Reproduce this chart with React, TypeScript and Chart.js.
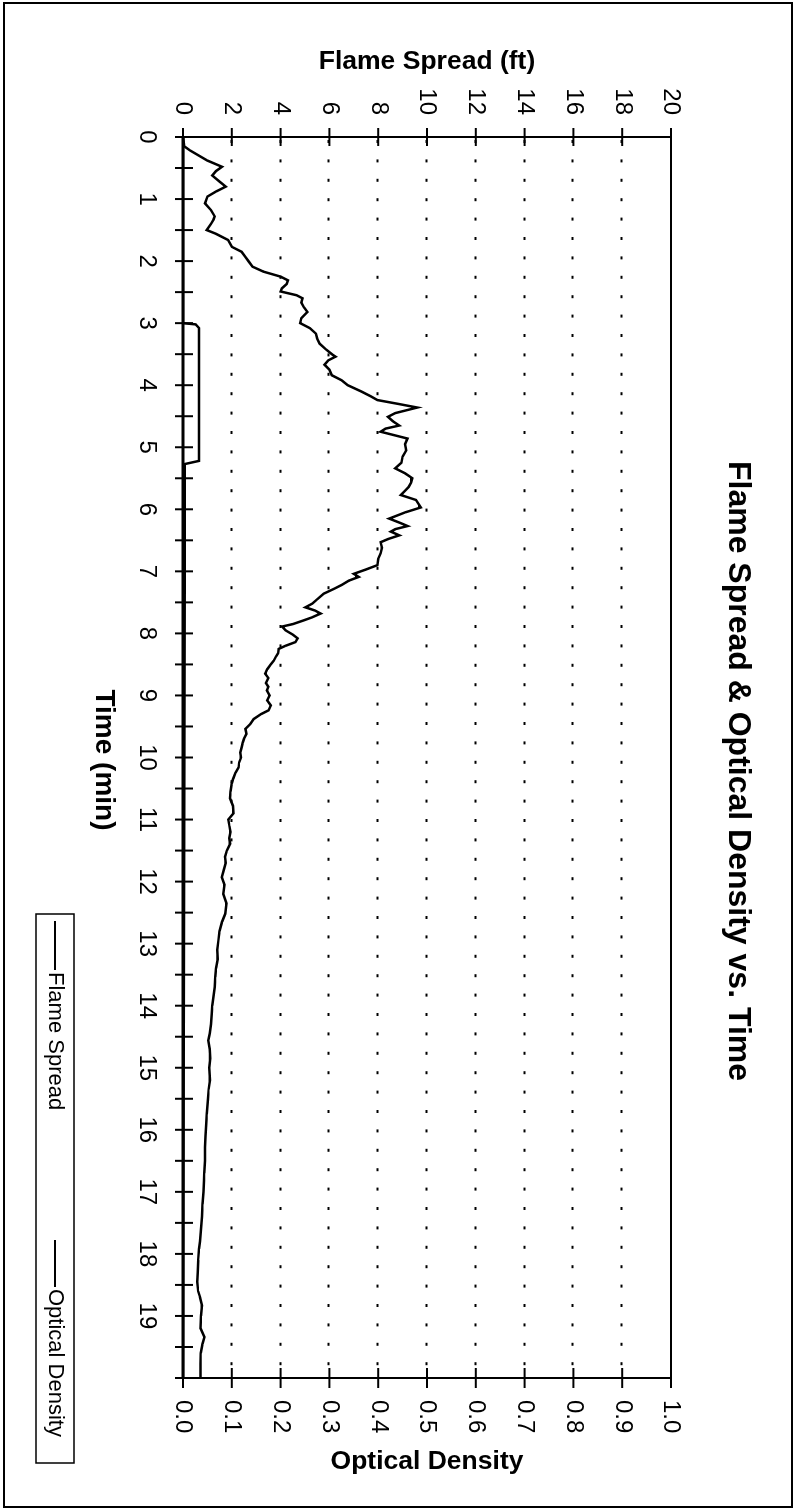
import React, { useEffect, useRef } from "react";
import { Chart, registerables } from "chart.js";

Chart.register(...registerables);

// Flame spread record (time in minutes, spread in feet)
const timeMin = [
  0, 0.15, 0.22, 0.3, 0.38, 0.48, 0.55, 0.62, 0.72, 0.8, 0.88, 0.96, 1.07, 1.18, 1.28, 1.33, 1.4, 1.5,
  1.56, 1.66, 1.77, 1.85, 1.93, 2.01, 2.09, 2.17, 2.25, 2.31, 2.37, 2.44, 2.49, 2.55, 2.6, 2.67, 2.74,
  2.82, 2.92, 3.0, 3.08, 3.17, 3.25, 3.33, 3.42, 3.5, 3.54, 3.6, 3.67, 3.75, 3.84, 3.92, 4.0, 4.1, 4.18,
  4.24, 4.3, 4.36, 4.45, 4.51, 4.58, 4.65, 4.7, 4.75, 4.86, 4.95, 5.05, 5.15, 5.25, 5.34, 5.42, 5.5, 5.57,
  5.64, 5.7, 5.77, 5.85, 5.97, 6.05, 6.15, 6.22, 6.27, 6.32, 6.36, 6.42, 6.48, 6.53, 6.62, 6.71, 6.8, 6.9,
  6.97, 7.04, 7.09, 7.15, 7.22, 7.28, 7.36, 7.45, 7.52, 7.58, 7.63, 7.68, 7.74, 7.79, 7.85, 7.89, 7.95,
  8.02, 8.08, 8.14, 8.2, 8.25, 8.32, 8.38, 8.44, 8.5, 8.58, 8.65, 8.72, 8.8, 8.86, 8.92, 9.0, 9.08, 9.16,
  9.24, 9.3, 9.38, 9.46, 9.54, 9.62, 9.7, 9.76, 9.83, 9.92, 10.0, 10.08, 10.16, 10.25, 10.35, 10.42, 10.55,
  10.66, 10.78, 10.9, 11.0, 11.1, 11.2, 11.3, 11.39, 11.5, 11.6, 11.7, 11.8, 11.93, 12.05, 12.2, 12.35,
  12.52, 12.65, 12.8, 12.95, 13.1, 13.25, 13.4, 13.54, 13.7, 13.85, 14.0, 14.13, 14.3, 14.45, 14.56, 14.7,
  14.85, 15.0, 15.2, 15.35, 15.5, 15.75, 15.9, 16.1, 16.28, 16.5, 16.7, 16.82, 17.0, 17.2, 17.4, 17.6,
  17.8, 17.92, 18.1, 18.3, 18.45, 18.6, 18.7, 18.83, 19.0, 19.2, 19.34, 19.45, 19.6, 19.77, 20.0,
];
const flameSpreadFt = [
  0, 0.05, 0.3, 0.65, 1.0, 1.6, 1.35, 1.2, 1.5, 1.75, 1.35, 1.0, 0.9, 1.15, 1.3, 1.25, 1.15, 0.97,
  1.35, 1.85, 2.0, 2.4, 2.55, 2.7, 2.85, 3.3, 4.0, 4.3, 4.25, 4.05, 4.0, 4.65, 4.9, 4.85, 4.95,
  5.1, 4.85, 4.8, 5.2, 5.45, 5.5, 5.6, 5.85, 6.1, 6.25, 5.95, 5.8, 6.0, 6.1, 6.5, 6.75, 7.3, 7.7,
  7.97, 8.8, 9.6, 8.7, 8.4, 8.6, 8.86, 8.3, 8.1, 9.2, 9.1, 9.15, 9.0, 8.95, 8.7, 9.1, 9.4, 9.35,
  9.25, 9.1, 8.93, 9.55, 9.75, 9.1, 8.45, 8.9, 9.2, 8.7, 8.52, 8.86, 8.4, 8.1, 8.15, 8.1, 8.0, 7.97,
  7.5, 7.0, 7.2, 6.8, 6.5, 6.2, 5.77, 5.5, 5.3, 5.02, 5.4, 5.64, 5.3, 4.95, 4.5, 4.06, 4.2,
  4.5, 4.7, 4.61, 4.2, 3.92, 3.9, 3.8, 3.72, 3.6, 3.45, 3.37, 3.5, 3.4, 3.5, 3.44, 3.55, 3.45, 3.6,
  3.51, 3.2, 2.9, 2.76, 2.56, 2.6, 2.5, 2.45, 2.41, 2.35, 2.38, 2.3, 2.28, 2.15, 2.05, 2.0, 1.95,
  1.93, 2.05, 2.07, 1.86, 1.9, 1.95, 1.9, 1.93, 1.8, 1.72, 1.75, 1.68, 1.59, 1.7, 1.65, 1.78,
  1.73, 1.6, 1.5, 1.45, 1.4, 1.42, 1.35, 1.32, 1.3, 1.25, 1.2, 1.18, 1.15, 1.1, 1.04, 1.1,
  1.12, 1.08, 1.11, 1.05, 1.02, 0.97, 0.95, 0.92, 0.9, 0.9, 0.87, 0.86, 0.84, 0.8, 0.78, 0.74,
  0.7, 0.66, 0.62, 0.6, 0.58, 0.62, 0.7, 0.78, 0.74, 0.72, 0.88, 0.8, 0.73, 0.72, 0.72,
];

// Optical density record
const densityTimeMin = [0, 3.0, 3.02, 3.08, 5.22, 5.27, 20];
const opticalDensity = [0, 0, 0.026, 0.033, 0.033, 0.004, 0];

// Axis tick values
const flameTicks = [0, 2, 4, 6, 8, 10, 12, 14, 16, 18, 20];
const densityTicks = [0, 0.1, 0.2, 0.3, 0.4, 0.5, 0.6, 0.7, 0.8, 0.9, 1.0];
const timeLabelTicks = [0, 1, 2, 3, 4, 5, 6, 7, 8, 9, 10, 11, 12, 13, 14, 15, 16, 17, 18, 19];
const timeMinorStep = 0.5;

const TITLE = "Flame Spread & Optical Density vs. Time";
const FLAME_AXIS_TITLE = "Flame Spread (ft)";
const DENSITY_AXIS_TITLE = "Optical Density";
const TIME_AXIS_TITLE = "Time (min)";
const SERIES_NAMES = ["Flame Spread", "Optical Density"];

// The chart is laid out landscape and turned a quarter turn clockwise on the page.
const W = 1511;
const H = 797;
const FONT = "'Liberation Sans', Arial, Helvetica, sans-serif";
const INK = "#000";

function line(ctx: CanvasRenderingContext2D, x1: number, y1: number, x2: number, y2: number) {
  ctx.beginPath();
  ctx.moveTo(x1, y1);
  ctx.lineTo(x2, y2);
  ctx.stroke();
}

function vText(ctx: CanvasRenderingContext2D, text: string, x: number, y: number) {
  ctx.save();
  ctx.translate(x, y);
  ctx.rotate(-Math.PI / 2);
  ctx.fillText(text, 0, 0);
  ctx.restore();
}

const decorPlugin = {
  id: "decor",
  beforeDraw(chart: any) {
    const { ctx } = chart;
    ctx.save();
    ctx.fillStyle = "#fff";
    ctx.fillRect(0, 0, chart.width, chart.height);
    ctx.restore();
  },
  beforeDatasetsDraw(chart: any) {
    const { ctx, chartArea: a, scales } = chart;
    ctx.save();
    ctx.strokeStyle = INK;
    ctx.lineWidth = 2;
    ctx.setLineDash([3, 16.4]);
    ctx.lineDashOffset = -3;
    for (const v of flameTicks) {
      if (v === 0 || v === 20) continue;
      const y = Math.round(scales.y.getPixelForValue(v)) + 0.5;
      line(ctx, a.left, y, a.right, y);
    }
    ctx.restore();
  },
  afterDraw(chart: any) {
    const { ctx, chartArea: a, scales } = chart;
    ctx.save();
    ctx.strokeStyle = INK;
    ctx.fillStyle = INK;

    // outer frame
    ctx.lineWidth = 2;
    ctx.strokeRect(3, 5, W - 7, H - 9);

    // plot border and axis lines
    ctx.lineWidth = 2;
    line(ctx, a.left, a.top, a.right, a.top);
    line(ctx, a.right, a.top, a.right, a.bottom);
    line(ctx, a.left, a.top, a.left, a.bottom);
    ctx.lineWidth = 3;
    line(ctx, a.left, a.bottom, a.right, a.bottom);

    // crossing tick marks
    ctx.lineWidth = 2;
    for (let v = 0; v <= 20 + 1e-9; v += timeMinorStep) {
      const x = scales.x.getPixelForValue(v);
      line(ctx, x, a.bottom - 10, x, a.bottom + 8);
    }
    for (const v of flameTicks) {
      const y = scales.y.getPixelForValue(v);
      line(ctx, a.left - 9, y, a.left + 9, y);
    }
    for (const v of densityTicks) {
      const y = scales.y1.getPixelForValue(v);
      line(ctx, a.right - 10, y, a.right + 10, y);
    }

    // titles
    const midY = (a.top + a.bottom) / 2;
    ctx.textBaseline = "middle";
    ctx.textAlign = "center";
    ctx.font = `bold 32px ${FONT}`;
    ctx.fillText(TITLE, 771, 59);
    ctx.font = `bold 26.5px ${FONT}`;
    vText(ctx, FLAME_AXIS_TITLE, 62, midY);
    vText(ctx, DENSITY_AXIS_TITLE, 1462, midY);
    ctx.font = `bold 28px ${FONT}`;
    ctx.fillText(TIME_AXIS_TITLE, 760, 693);

    // legend
    const lx = 914, ly = 723, lw = 549, lh = 38;
    ctx.lineWidth = 1.5;
    ctx.strokeRect(lx, ly, lw, lh);
    const cy = ly + lh / 2;
    ctx.lineWidth = 2;
    ctx.font = `22px ${FONT}`;
    ctx.textAlign = "left";
    line(ctx, 921, cy, 970, cy);
    ctx.fillText(SERIES_NAMES[0], 972, cy);
    line(ctx, 1240, cy, 1287, cy);
    ctx.fillText(SERIES_NAMES[1], 1289, cy);

    ctx.restore();
  },
};

export default function App() {
  const ref = useRef<HTMLCanvasElement>(null);

  useEffect(() => {
    if (!ref.current) return;
    const tickFont = { family: FONT, size: 24 };
    const chart = new Chart(ref.current, {
      type: "line",
      data: {
        datasets: [
          {
            label: SERIES_NAMES[0],
            data: timeMin.map((t, i) => ({ x: t, y: flameSpreadFt[i] })),
            borderColor: INK,
            borderWidth: 2.5,
            pointRadius: 0,
            tension: 0,
            yAxisID: "y",
          },
          {
            label: SERIES_NAMES[1],
            data: densityTimeMin.map((t, i) => ({ x: t, y: opticalDensity[i] })),
            borderColor: INK,
            borderWidth: 2.5,
            pointRadius: 0,
            tension: 0,
            yAxisID: "y1",
          },
        ],
      },
      options: {
        responsive: false,
        animation: false,
        devicePixelRatio: 1,
        layout: { padding: { top: 126, left: 0, right: 0, bottom: 0 } },
        plugins: {
          legend: { display: false },
          title: { display: false },
          tooltip: { enabled: false },
        },
        scales: {
          x: {
            type: "linear",
            position: "bottom",
            min: 0,
            max: 20,
            afterFit: (s: any) => {
              s.height = 183;
            },
            afterBuildTicks: (s: any) => {
              s.ticks = timeLabelTicks.map((v) => ({ value: v }));
            },
            grid: { display: false, drawTicks: false },
            border: { display: false },
            ticks: {
              font: tickFont,
              color: INK,
              padding: 22,
              maxRotation: 0,
              autoSkip: false,
              callback: (v: any) => String(v),
            },
          },
          y: {
            type: "linear",
            position: "left",
            min: 0,
            max: 20,
            afterFit: (s: any) => {
              s.width = 137;
            },
            afterBuildTicks: (s: any) => {
              s.ticks = flameTicks.map((v) => ({ value: v }));
            },
            grid: { display: false, drawTicks: false },
            border: { display: false },
            ticks: { font: tickFont, color: INK, padding: 22, callback: (v: any) => String(v) },
          },
          y1: {
            type: "linear",
            position: "right",
            min: 0,
            max: 1,
            afterFit: (s: any) => {
              s.width = 133;
            },
            afterBuildTicks: (s: any) => {
              s.ticks = densityTicks.map((v) => ({ value: v }));
            },
            grid: { display: false, drawTicks: false },
            border: { display: false },
            ticks: {
              font: tickFont,
              color: INK,
              padding: 22,
              callback: (v: any) => Number(v).toFixed(1),
            },
          },
        },
      },
      plugins: [decorPlugin],
    });
    return () => chart.destroy();
  }, []);

  return (
    <div
      style={{
        position: "absolute",
        left: 0,
        top: 0,
        width: 797,
        height: 1511,
        overflow: "hidden",
        background: "#fff",
      }}
    >
      <div
        style={{
          position: "absolute",
          left: 0,
          top: 0,
          width: W,
          height: H,
          transformOrigin: "0 0",
          transform: "translate(797px, 0) rotate(90deg)",
        }}
      >
        <canvas ref={ref} width={W} height={H} style={{ display: "block", width: W, height: H }} />
      </div>
    </div>
  );
}
